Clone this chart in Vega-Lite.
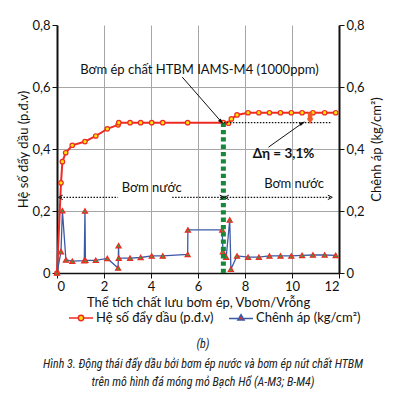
{
  "$schema": "https://vega.github.io/schema/vega-lite/v6.json",
  "autosize": {"type": "none"},
  "padding": {"left": 57, "top": 25, "right": 65, "bottom": 121},
  "width": 282,
  "height": 248,
  "background": "white",
  "title": {
    "text": "(b)",
    "subtitle": ["Hình 3. Động thái đẩy dầu bởi bơm ép nước và bơm ép nút chất HTBM", "trên mô hình đá móng mỏ Bạch Hổ (A-M3; B-M4)"],
    "orient": "bottom",
    "anchor": "middle",
    "dx": 5,
    "offset": 14,
    "font": "Liberation Sans Narrow, Roboto Condensed, Roboto",
    "fontSize": 12,
    "fontStyle": "italic",
    "fontWeight": "normal",
    "color": "#222",
    "subtitleFont": "Liberation Sans Narrow, Roboto Condensed, Roboto",
    "subtitleFontSize": 12,
    "subtitleFontStyle": "italic",
    "subtitleColor": "#222",
    "subtitleLineHeight": 18,
    "subtitlePadding": 8
  },
  "datasets": {
    "eta": [
      {"x": 0, "y": 0},
      {"x": 0.17, "y": 0.291},
      {"x": 0.23, "y": 0.359},
      {"x": 0.37, "y": 0.388},
      {"x": 0.65, "y": 0.412},
      {"x": 1.19, "y": 0.424},
      {"x": 1.65, "y": 0.442},
      {"x": 2.14, "y": 0.465},
      {"x": 2.6, "y": 0.478},
      {"x": 2.63, "y": 0.485},
      {"x": 3.11, "y": 0.485},
      {"x": 3.56, "y": 0.485},
      {"x": 4.03, "y": 0.485},
      {"x": 4.5, "y": 0.485},
      {"x": 5.56, "y": 0.485},
      {"x": 7.08, "y": 0.485},
      {"x": 7.3, "y": 0.483},
      {"x": 7.42, "y": 0.497},
      {"x": 7.66, "y": 0.51},
      {"x": 8.13, "y": 0.517},
      {"x": 8.59, "y": 0.517},
      {"x": 9.04, "y": 0.517},
      {"x": 9.51, "y": 0.517},
      {"x": 9.97, "y": 0.517},
      {"x": 10.43, "y": 0.517},
      {"x": 10.89, "y": 0.517},
      {"x": 11.39, "y": 0.517},
      {"x": 11.86, "y": 0.517}
    ],
    "dp": [
      {"x": 0, "y": 0},
      {"x": 0.17, "y": 0.069},
      {"x": 0.23, "y": 0.201},
      {"x": 0.38, "y": 0.042},
      {"x": 0.65, "y": 0.038},
      {"x": 1.16, "y": 0.04},
      {"x": 1.19, "y": 0.2},
      {"x": 1.21, "y": 0.041},
      {"x": 1.65, "y": 0.041},
      {"x": 2.14, "y": 0.047},
      {"x": 2.6, "y": 0.016},
      {"x": 2.62, "y": 0.088},
      {"x": 2.63, "y": 0.048},
      {"x": 3.11, "y": 0.048},
      {"x": 3.56, "y": 0.05},
      {"x": 4.03, "y": 0.055},
      {"x": 4.5, "y": 0.055},
      {"x": 5.56, "y": 0.06},
      {"x": 5.57, "y": 0.139},
      {"x": 7.03, "y": 0.139},
      {"x": 7.06, "y": 0.069},
      {"x": 7.2, "y": 0.051},
      {"x": 7.35, "y": 0.171},
      {"x": 7.4, "y": 0.012},
      {"x": 7.66, "y": 0.055},
      {"x": 8.13, "y": 0.051},
      {"x": 8.59, "y": 0.051},
      {"x": 9.04, "y": 0.055},
      {"x": 9.51, "y": 0.055},
      {"x": 9.97, "y": 0.055},
      {"x": 10.43, "y": 0.057},
      {"x": 10.89, "y": 0.058},
      {"x": 11.39, "y": 0.058},
      {"x": 11.86, "y": 0.057}
    ]
  },
  "layer": [
    {
      "data": {"name": "eta"},
      "mark": {"type": "line", "color": "#ee2a24", "strokeWidth": 2},
      "encoding": {
        "x": {"field": "x", "type": "quantitative", "scale": {"domain": [0, 12], "nice": false},
          "axis": {"values": [0, 2, 4, 6, 8, 10, 12], "title": "Thể tích chất lưu bơm ép, Vbơm/Vrỗng", "grid": true,
            "gridOpacity": {"condition": {"test": "datum.value == 0 || datum.value == 12", "value": 0}, "value": 1},
            "domainWidth": 1.5, "titlePadding": 3}},
        "y": {"field": "y", "type": "quantitative", "scale": {"domain": [0, 0.8], "nice": false},
          "axis": {"orient": "left", "values": [0, 0.2, 0.4, 0.6, 0.8], "title": "Hệ số đẩy dầu (p.đ.v)", "grid": true,
            "gridOpacity": {"condition": {"test": "datum.value == 0 || datum.value >= 0.79", "value": 0}, "value": 1},
            "labelExpr": "datum.value == 0 ? '0' : replace(format(datum.value, '.1f'), '.', ',')",
            "domainWidth": 2, "titlePadding": 1}}
      }
    },
    {
      "data": {"name": "eta"},
      "mark": {"type": "point", "shape": "circle", "size": 20, "filled": true, "fill": "#ffe600", "stroke": "#ee2a24", "strokeWidth": 1.2, "opacity": 1},
      "encoding": {
        "x": {"field": "x", "type": "quantitative"},
        "y": {"field": "y", "type": "quantitative", "axis": null}
      }
    },
    {
      "data": {"name": "dp"},
      "mark": {"type": "line", "color": "#3b5aa6", "strokeWidth": 1.3},
      "encoding": {
        "x": {"field": "x", "type": "quantitative"},
        "y": {"field": "y", "type": "quantitative",
          "axis": {"orient": "right", "values": [0, 0.2, 0.4, 0.6, 0.8], "title": "Chênh áp (kg/cm²)", "grid": false,
            "titleAngle": 270, "titleBaseline": "bottom",
            "labelExpr": "datum.value == 0 ? '0' : replace(format(datum.value, '.1f'), '.', ',')",
            "domainWidth": 2, "titlePadding": 19}}
      }
    },
    {
      "data": {"name": "dp"},
      "mark": {"type": "point", "shape": "triangle-up", "size": 26, "filled": true, "fill": "#3f9b3a", "stroke": "#ee2a24", "strokeWidth": 1.2, "opacity": 1},
      "encoding": {
        "x": {"field": "x", "type": "quantitative"},
        "y": {"field": "y", "type": "quantitative", "axis": null}
      }
    },
    {
      "data": {"values": [{"x": 7.08, "y": 0, "y2": 0.485}]},
      "mark": {"type": "rule", "color": "#17873a", "strokeWidth": 5, "strokeDash": [4.3, 3]},
      "encoding": {
        "x": {"field": "x", "type": "quantitative"},
        "y": {"field": "y", "type": "quantitative", "axis": null},
        "y2": {"field": "y2"}
      }
    },
    {
      "data": {"values": [
        {"x": 7.1, "x2": 11.7, "y": 0.485, "y2": 0.485},
        {"x": 0.15, "x2": 2.6, "y": 0.244, "y2": 0.244},
        {"x": 4.9, "x2": 7.02, "y": 0.244, "y2": 0.244},
        {"x": 7.22, "x2": 11.62, "y": 0.244, "y2": 0.244}
      ]},
      "mark": {"type": "rule", "color": "#111", "strokeWidth": 1.2, "strokeDash": [1.5, 1.5]},
      "encoding": {
        "x": {"field": "x", "type": "quantitative"},
        "x2": {"field": "x2"},
        "y": {"field": "y", "type": "quantitative", "axis": null},
        "y2": {"field": "y2"}
      }
    },
    {
      "data": {"values": [
        {"x": 0.15, "y": 0.244, "a": 180},
        {"x": 7.02, "y": 0.244, "a": 0},
        {"x": 7.22, "y": 0.244, "a": 180},
        {"x": 11.62, "y": 0.244, "a": 0}
      ]},
      "mark": {"type": "point", "shape": "M-1,-1L1,0L-1,1", "size": 20, "filled": false, "stroke": "#111", "strokeWidth": 1, "opacity": 1},
      "encoding": {
        "x": {"field": "x", "type": "quantitative"},
        "y": {"field": "y", "type": "quantitative", "axis": null},
        "angle": {"field": "a", "type": "quantitative", "scale": null}
      }
    },
    {
      "data": {"values": [
        {"x": 5.33, "x2": 7.0, "y": 0.632, "y2": 0.487},
        {"x": 9.0, "x2": 10.45, "y": 0.406, "y2": 0.484}
      ]},
      "mark": {"type": "rule", "color": "#111", "strokeWidth": 1},
      "encoding": {
        "x": {"field": "x", "type": "quantitative"},
        "x2": {"field": "x2"},
        "y": {"field": "y", "type": "quantitative", "axis": null},
        "y2": {"field": "y2"}
      }
    },
    {
      "data": {"values": [
        {"x": 7.0, "y": 0.487, "a": 136},
        {"x": 10.45, "y": 0.484, "a": 62}
      ]},
      "mark": {"type": "point", "shape": "M0,-1L0.6,1L-0.6,1Z", "size": 40, "filled": true, "color": "#111", "opacity": 1},
      "encoding": {
        "x": {"field": "x", "type": "quantitative"},
        "y": {"field": "y", "type": "quantitative", "axis": null},
        "angle": {"field": "a", "type": "quantitative", "scale": null}
      }
    },
    {
      "data": {"values": [{"x": 10.77, "y": 0.492, "y2": 0.518}]},
      "mark": {"type": "rule", "color": "#f15a24", "strokeWidth": 4.5},
      "encoding": {
        "x": {"field": "x", "type": "quantitative"},
        "y": {"field": "y", "type": "quantitative", "axis": null},
        "y2": {"field": "y2"}
      }
    },
    {
      "data": {"values": [{"x": 10.77, "y": 0.49}]},
      "mark": {"type": "point", "shape": "triangle-down", "size": 45, "filled": true, "color": "#f15a24", "opacity": 1},
      "encoding": {
        "x": {"field": "x", "type": "quantitative"},
        "y": {"field": "y", "type": "quantitative", "axis": null}
      }
    },
    {
      "data": {"values": [
        {"x": 6.06, "y": 0.655, "t": "Bơm ép chất HTBM IAMS-M4 (1000ppm)", "w": "normal"},
        {"x": 4.03, "y": 0.275, "t": "Bơm nước", "w": "normal"},
        {"x": 10.09, "y": 0.287, "t": "Bơm nước", "w": "normal"}
      ]},
      "mark": {"type": "text", "font": "Lato", "fontSize": 13, "color": "#111", "align": "center", "baseline": "middle"},
      "encoding": {
        "x": {"field": "x", "type": "quantitative"},
        "y": {"field": "y", "type": "quantitative", "axis": null},
        "text": {"field": "t"}
      }
    },
    {
      "data": {"values": [{"x": 9.64, "y": 0.384, "t": "Δη = 3,1%"}]},
      "mark": {"type": "text", "font": "Lato", "fontSize": 13.5, "fontWeight": "bold", "color": "#111", "align": "center", "baseline": "middle"},
      "encoding": {
        "x": {"field": "x", "type": "quantitative"},
        "y": {"field": "y", "type": "quantitative", "axis": null},
        "text": {"field": "t"}
      }
    },
    {
      "data": {"values": [
        {"x": -20, "y": 0.1, "series": "Hệ số  đẩy dầu (p.đ.v)"},
        {"x": -20, "y": 0.1, "series": "Chênh áp (kg/cm²)"}
      ]},
      "mark": {"type": "point", "filled": true, "clip": true, "strokeWidth": 1.5, "opacity": 1},
      "encoding": {
        "x": {"field": "x", "type": "quantitative"},
        "y": {"field": "y", "type": "quantitative", "axis": null},
        "shape": {"field": "series", "type": "nominal",
          "scale": {"domain": ["Hệ số  đẩy dầu (p.đ.v)", "Chênh áp (kg/cm²)"],
            "range": ["M-1,0H-0.22M0.22,0H1M-0.22,0A0.22,0.22 0 1,0 0.22,0A0.22,0.22 0 1,0 -0.22,0Z", "M-1,0.05H-0.26M0.26,0.05H1M0,-0.28L0.26,0.17L-0.26,0.17Z"]},
          "legend": {"title": null, "orient": "none", "legendX": 11, "legendY": 280, "direction": "horizontal", "columns": 2,
            "symbolSize": 576, "symbolStrokeWidth": 1.5, "labelFont": "Lato", "labelFontSize": 13, "labelColor": "#111",
            "labelOffset": 2, "columnPadding": 8}},
        "fill": {"field": "series", "type": "nominal",
          "scale": {"domain": ["Hệ số  đẩy dầu (p.đ.v)", "Chênh áp (kg/cm²)"], "range": ["#ffe600", "#ee2a24"]}},
        "stroke": {"field": "series", "type": "nominal",
          "scale": {"domain": ["Hệ số  đẩy dầu (p.đ.v)", "Chênh áp (kg/cm²)"], "range": ["#ee2a24", "#3b5aa6"]}}
      }
    }
  ],
  "resolve": {"axis": {"y": "independent"}},
  "config": {
    "view": {"stroke": null},
    "axis": {
      "labelFont": "Lato", "labelFontSize": 13, "labelColor": "#111",
      "titleFont": "Lato", "titleFontSize": 13, "titleFontWeight": "normal", "titleColor": "#111",
      "domainColor": "#111", "tickColor": "#111", "tickSize": 5, "labelPadding": 2,
      "gridColor": "#a6a6a6", "gridWidth": 1
    }
  }
}
